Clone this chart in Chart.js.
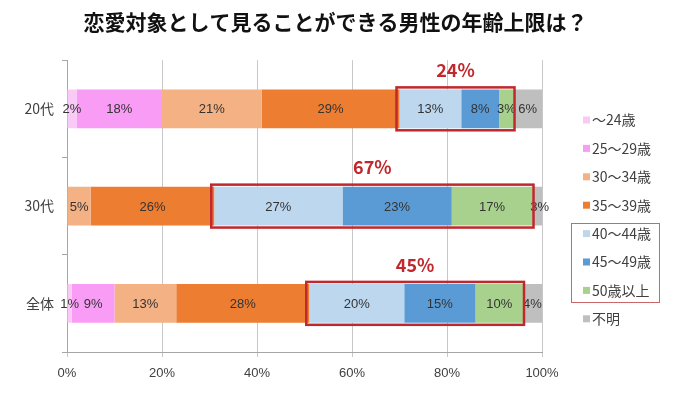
<!DOCTYPE html>
<html>
<head>
<meta charset="utf-8">
<script src="https://cdn.jsdelivr.net/npm/chart.js@4/dist/chart.umd.min.js"></script>
<style>
  html, body { margin: 0; padding: 0; background: #fff; }
  #wrap { width: 693px; height: 396px; }
</style>
</head>
<body>
<div id="wrap"><canvas id="ageChart"></canvas></div>
<script>
// データ
const groups = ['20代', '30代', '全体'];
const seriesNames = ['～24歳', '25～29歳', '30～34歳', '35～39歳', '40～44歳', '45～49歳', '50歳以上', '不明'];
const under24 = [2, 0, 1];
const age25to29 = [18, 0, 9];
const age30to34 = [21, 5, 13];
const age35to39 = [29, 26, 28];
const age40to44 = [13, 27, 20];
const age45to49 = [8, 23, 15];
const over50 = [3, 17, 10];
const unknown = [6, 3, 4];
const totals40plus = ['24%', '67%', '45%'];
const xTicks = [0, 20, 40, 60, 80, 100];

const colors = ['#f9caf6', '#f99cf6', '#f4b183', '#ed7d31', '#bdd7ee', '#5b9bd5', '#a9d18e', '#bfbfbf'];
const allSeries = [under24, age25to29, age30to34, age35to39, age40to44, age45to49, over50, unknown];
const jpFont = '"Noto Sans CJK JP", sans-serif';
const numFont = '"Liberation Sans", Arial, sans-serif';
const boxRed = '#c0282d';

// 各セグメントの数値ラベル
const segmentLabels = {
    id: 'segmentLabels',
    afterDatasetsDraw(chart) {
        const ctx = chart.ctx;
        ctx.save();
        ctx.font = '13px ' + numFont;
        ctx.fillStyle = '#333';
        ctx.textAlign = 'center';
        ctx.textBaseline = 'middle';
        chart.data.datasets.forEach(function(ds, di) {
            chart.getDatasetMeta(di).data.forEach(function(bar, i) {
                const v = ds.data[i];
                if (!v) return;
                ctx.fillText(v + '%', (bar.x + bar.base) / 2, bar.y + 1);
            });
        });
        ctx.restore();
    }
};

// 40歳以上を囲む赤枠と合計値
const highlightBoxes = {
    id: 'highlightBoxes',
    afterDatasetsDraw(chart) {
        const ctx = chart.ctx;
        const first = chart.getDatasetMeta(4).data;
        const last = chart.getDatasetMeta(6).data;
        ctx.save();
        groups.forEach(function(g, i) {
            const left = first[i].base - 3;
            const right = last[i].x + 1;
            const h = first[i].height;
            const top = first[i].y - h / 2 - 2;
            const bottom = first[i].y + h / 2 + 2;
            ctx.strokeStyle = boxRed;
            ctx.lineWidth = 2.5;
            ctx.strokeRect(left, top, right - left, bottom - top);
            ctx.fillStyle = boxRed;
            ctx.font = 'bold 18px ' + jpFont;
            ctx.textAlign = 'center';
            ctx.textBaseline = 'middle';
            ctx.fillText(totals40plus[i], (left + right) / 2, first[i].y - h / 2 - 19);
        });
        ctx.restore();
    }
};

// 凡例（右側）
const sideLegend = {
    id: 'sideLegend',
    afterDraw(chart) {
        const ctx = chart.ctx;
        ctx.save();
        ctx.font = '14px ' + jpFont;
        ctx.textBaseline = 'middle';
        ctx.textAlign = 'left';
        seriesNames.forEach(function(name, i) {
            const y = 120 + i * 28.4;
            ctx.fillStyle = colors[i];
            ctx.fillRect(583, y - 3.5, 7, 7);
            ctx.fillStyle = '#404040';
            ctx.fillText(name, 592, y);
        });
        ctx.strokeStyle = '#c9676a';
        ctx.lineWidth = 1;
        ctx.strokeRect(571.5, 223.5, 88, 79);
        ctx.restore();
    }
};

const datasets = seriesNames.map(function(name, i) {
    return {
        label: name,
        data: allSeries[i],
        backgroundColor: colors[i],
        borderWidth: 0,
        barPercentage: 0.4,
        categoryPercentage: 1
    };
});

new Chart(document.getElementById('ageChart'), {
    type: 'bar',
    data: { labels: groups, datasets: datasets },
    plugins: [segmentLabels, highlightBoxes, sideLegend],
    options: {
        indexAxis: 'y',
        responsive: true,
        maintainAspectRatio: false,
        animation: false,
        layout: { padding: { left: 0, right: 22, top: 0, bottom: 0 } },
        scales: {
            x: {
                stacked: true,
                min: 0,
                max: 100,
                afterBuildTicks: function(scale) {
                    scale.ticks = xTicks.map(function(v) { return { value: v }; });
                },
                afterFit: function(scale) { scale.height = 44; },
                grid: { color: '#c8c8c8', tickLength: 5 },
                border: { color: '#a6a6a6' },
                ticks: {
                    padding: 9,
                    color: '#404040',
                    font: { family: numFont, size: 13 },
                    callback: function(v) { return v + '%'; }
                }
            },
            y: {
                stacked: true,
                afterFit: function(scale) { scale.width = 67; },
                grid: { drawOnChartArea: false, tickLength: 5, color: '#a6a6a6' },
                border: { color: '#a6a6a6' },
                ticks: {
                    padding: 8,
                    color: '#404040',
                    font: { family: jpFont, size: 14 }
                }
            },
            // 凡例用の右側スペース
            legendSpace: {
                type: 'linear',
                axis: 'y',
                position: 'right',
                display: true,
                afterFit: function(scale) { scale.width = 129; },
                grid: { display: false },
                border: { display: false },
                ticks: { display: false }
            }
        },
        plugins: {
            legend: { display: false },
            tooltip: { enabled: false },
            title: {
                display: true,
                text: '恋愛対象として見ることができる男性の年齢上限は？',
                color: '#111',
                font: { family: jpFont, size: 21, weight: 'bold' },
                padding: { top: 9, bottom: 26 }
            }
        }
    }
});
</script>
</body>
</html>
